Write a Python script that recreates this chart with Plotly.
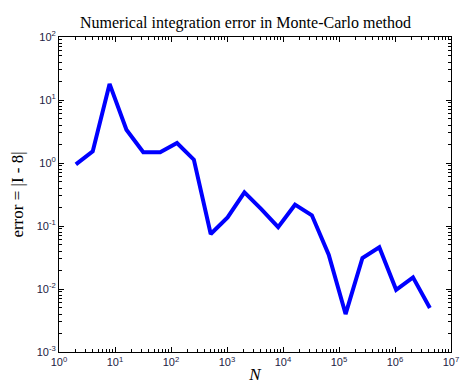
import plotly.graph_objects as go

N_values = [2**k for k in range(1, 23)]
errors = [0.95, 1.53, 18.0, 3.38, 1.48, 1.48, 2.08, 1.13, 0.0746, 0.137, 0.342,
          0.186, 0.096, 0.218, 0.148, 0.035, 0.0040, 0.031, 0.046, 0.0097, 0.0153, 0.0050]

x_decades = list(range(0, 8))
y_decades = list(range(-3, 3))
x_tick_labels = [f"10<sup>{p}</sup>" for p in x_decades]
y_tick_labels = [f"10<sup>{p}</sup>" for p in y_decades]

title_text = "Numerical integration error in Monte-Carlo method"
x_title = "<i>N</i>"
y_title = "error = |I - 8|"

def minor_vals(decades):
    return [m * 10**p for p in decades[:-1] for m in range(2, 10)]

tick_font = dict(family="Liberation Sans, Arial, sans-serif", size=11, color="#222244")

fig = go.Figure()
fig.add_trace(go.Scatter(
    x=N_values, y=errors, mode="lines",
    line=dict(color="#0000FF", width=4),
    showlegend=False,
))

axis_common = dict(
    type="log",
    showgrid=False, zeroline=False,
    showline=True, linecolor="black", linewidth=1,
    mirror="ticks", ticks="inside", ticklen=5, tickcolor="black", tickwidth=1,
    tickfont=tick_font, automargin=False,
)

fig.update_xaxes(
    range=[0, 7],
    tickmode="array", tickvals=[10**p for p in x_decades], ticktext=x_tick_labels,
    minor=dict(tickmode="array", tickvals=minor_vals(x_decades), ticks="inside",
               ticklen=3, tickcolor="black", showgrid=False),
    title=dict(text=x_title, font=dict(family="Liberation Serif, Times New Roman, serif",
                                        size=17, color="black"), standoff=0),
    **axis_common,
)
fig.update_yaxes(
    range=[-3, 2],
    tickmode="array", tickvals=[10**p for p in y_decades], ticktext=y_tick_labels,
    minor=dict(tickmode="array", tickvals=minor_vals(y_decades), ticks="inside",
               ticklen=3, tickcolor="black", showgrid=False),
    title=dict(text=y_title, font=dict(family="Liberation Serif, Times New Roman, serif",
                                        size=17, color="black"), standoff=10),
    **axis_common,
)

fig.update_layout(
    width=475, height=387,
    margin=dict(l=51, r=32, t=29, b=43),
    paper_bgcolor="white", plot_bgcolor="white",
    title=dict(text=title_text, x=0.5, xanchor="center", y=0.962, yanchor="middle",
               font=dict(family="Liberation Serif, Times New Roman, serif", size=16, color="black")),
)

fig.write_html("out.html")
